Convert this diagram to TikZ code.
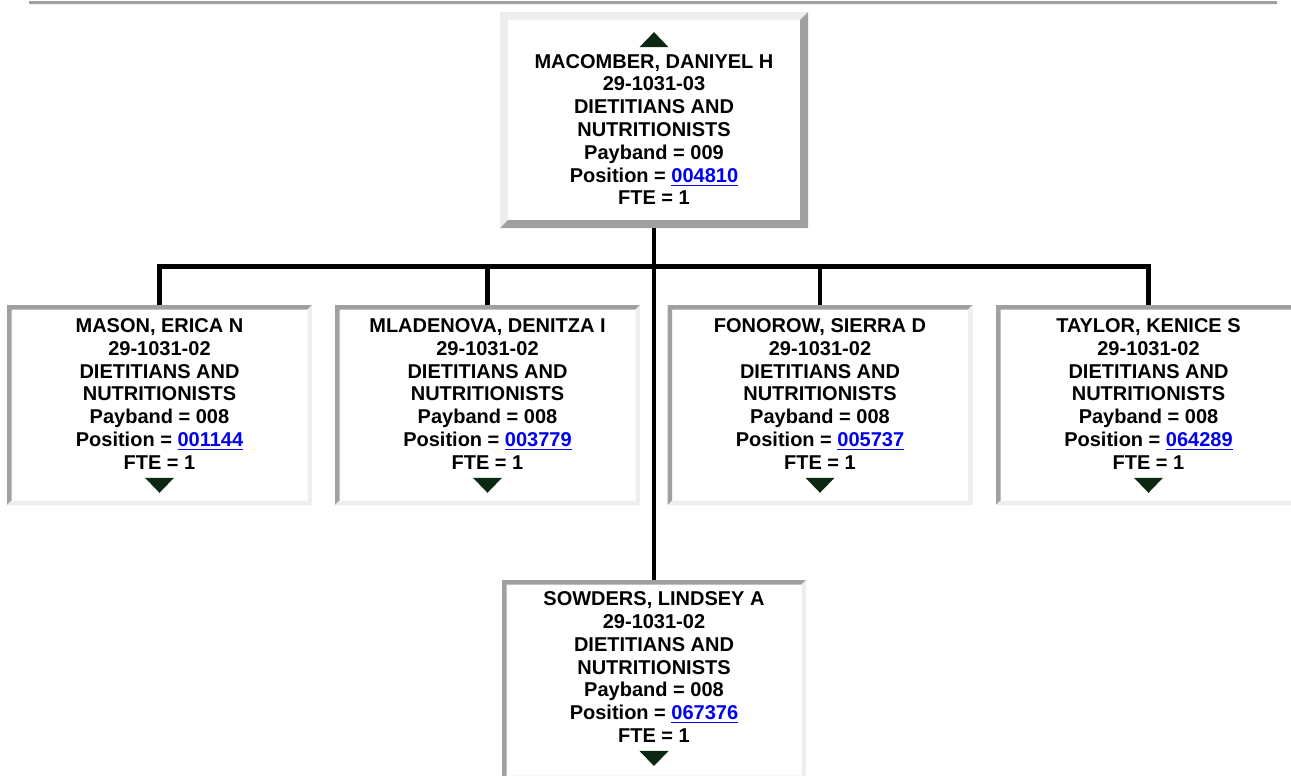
\documentclass[tikz,border=0pt]{standalone}
\usepackage{fontspec}
\setmainfont{Liberation Sans}
\usepackage{xcolor}
\usetikzlibrary{positioning, calc}
\definecolor{bevdark}{RGB}{160,160,160}
\definecolor{bevlight}{RGB}{238,238,238}
\definecolor{linkblue}{RGB}{0,0,238}
\definecolor{icongreen}{RGB}{12,40,16}
\newcommand{\poslink}[1]{\textcolor{linkblue}{\underline{#1}}}

\begin{document}
\begin{tikzpicture}[
  x=0.5pt, y=-0.5pt,
  bevel/.style n args={3}{path picture={
    \coordinate (bb-sw) at (path picture bounding box.south west);
    \coordinate (bb-nw) at (path picture bounding box.north west);
    \coordinate (bb-ne) at (path picture bounding box.north east);
    \coordinate (bb-se) at (path picture bounding box.south east);
    \fill[#2] (bb-sw) -- (bb-nw) -- (bb-ne) -- ([shift={(-#1,-#1)}]bb-ne)
      -- ([shift={(#1,-#1)}]bb-nw) -- ([shift={(#1,#1)}]bb-sw) -- cycle;
    \fill[#3] (bb-ne) -- (bb-se) -- (bb-sw) -- ([shift={(#1,#1)}]bb-sw)
      -- ([shift={(-#1,#1)}]bb-se) -- ([shift={(-#1,-#1)}]bb-ne) -- cycle;
  }},
  bossbox/.style={rectangle, fill=white, inner sep=0pt, outer sep=0pt,
                  minimum width=154pt, minimum height=108pt,
                  bevel={4pt}{bevlight}{bevdark}},
  staffbox/.style={rectangle, fill=white, inner sep=0pt, outer sep=0pt,
                   minimum width=152.5pt, minimum height=100pt,
                   bevel={2.25pt}{bevdark}{bevlight}},
  card/.style={align=center, inner sep=0pt, outer sep=0pt,
               font=\fontsize{10}{11.4}\selectfont\bfseries},
  conn/.style={draw=black, line width=2.2pt},
  icon/.style={fill=icongreen},
]
\useasboundingbox (0,0) rectangle (1291,776);

% rule at the top
\fill[bevdark] (29,1) rectangle (1277,3.6);
\fill[bevlight] (29,3.6) rectangle (1277,5.2);

% manager
\node[bossbox] (MAC) at (654,120) {};
\node[card] (MAC-t) at ([yshift=-4.75pt]MAC.center) {
  MACOMBER, DANIYEL H\\29-1031-03\\DIETITIANS AND\\NUTRITIONISTS\\
  Payband = 009\\Position = \poslink{004810}\\FTE = 1};
\fill[icon] ([yshift=3.5pt]MAC-t.north) ++(-7.25pt,0) -- ++(14.5pt,0)
  -- ++(-7.25pt,7.5pt) -- cycle;

% staff in the row
\foreach \id/\x/\who/\pos in {MAS/159.5/{MASON, ERICA N}/001144,
    MLA/487.5/{MLADENOVA, DENITZA I}/003779,
    FON/820/{FONOROW, SIERRA D}/005737,
    TAY/1148.5/{TAYLOR, KENICE S}/064289}{
  \node[staffbox] (\id) at (\x,405) {};
  \node[card] (\id-t) at ([yshift=5.5pt]\id.center) {
    \who\\29-1031-02\\DIETITIANS AND\\NUTRITIONISTS\\
    Payband = 008\\Position = \poslink{\pos}\\FTE = 1};
  \fill[icon] ([yshift=-4.2pt]\id-t.south) ++(-7.25pt,0) -- ++(14.5pt,0)
    -- ++(-7.25pt,-7.5pt) -- cycle;
}

% staff below
\node[staffbox, minimum width=152pt] (SOW) at (654,680) {};
\node[card] (SOW-t) at ([yshift=6.4pt]SOW.center) {
  SOWDERS, LINDSEY A\\29-1031-02\\DIETITIANS AND\\NUTRITIONISTS\\
  Payband = 008\\Position = \poslink{067376}\\FTE = 1};
\fill[icon] ([yshift=-4.2pt]SOW-t.south) ++(-7.25pt,0) -- ++(14.5pt,0)
  -- ++(-7.25pt,-7.5pt) -- cycle;

% reporting lines
\coordinate (bar) at (654,266.5);
\draw[conn] (MAC.south) -- (SOW.north);
\draw[conn] (MAS.north) |- (bar) -| (TAY.north);
\draw[conn] (MLA.north) -- (MLA.north |- bar);
\draw[conn] (FON.north) -- (FON.north |- bar);
\end{tikzpicture}
\end{document}
